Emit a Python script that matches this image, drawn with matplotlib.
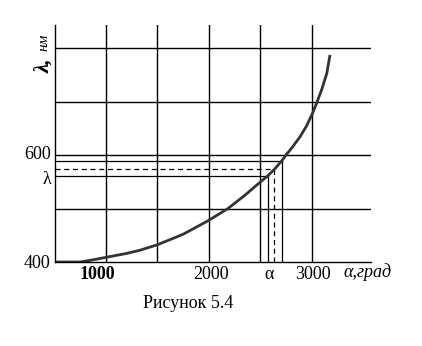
import matplotlib
matplotlib.use("Agg")
import matplotlib.pyplot as plt

plt.rcParams['font.family'] = ['Liberation Serif', 'DejaVu Serif']

# кривая λ(α)
alpha = [505, 750, 900, 1007, 1200, 1330, 1495, 1650, 1750, 1990, 2100, 2185,
         2350, 2495, 2570, 2634, 2706, 2748, 2803, 2884, 2949, 3003, 3039,
         3094, 3143, 3175]
lam = [400, 400, 405, 409, 416, 422, 432, 444, 452, 477, 490, 500,
       525, 549, 561, 573, 589, 600, 613, 634, 655, 677, 694,
       722, 752, 787]

grid_x = [1000, 1500, 2000, 2500, 3000]
grid_y = [500, 600, 700, 800]

# вспомогательные линии отсчёта
ref_alpha = [2570, 2634, 2706]
ref_lam = [561, 573, 589]
ref_dashed = [False, True, False]

xtick_pos = [918, 2024, 2583, 3005]
xtick_lab = ['1000', '2000', 'α', '3000']
ytick_pos = [400, 558, 605]
ytick_lab = ['400', 'λ', '600']

fig = plt.figure(figsize=(4.22, 3.46), dpi=100)
ax = fig.add_axes([55/422, 1 - 262/346, 316/422, 237/346])
ax.set_xlim(505, 3573)
ax.set_ylim(400, 843)

for gx in grid_x:
    ax.axvline(gx, color='black', lw=1.0)
for gy in grid_y:
    ax.axhline(gy, color='black', lw=1.0)

for a, l, d in zip(ref_alpha, ref_lam, ref_dashed):
    st = dict(color='black', lw=0.9)
    if d:
        st['dashes'] = (4, 3)
    ax.plot([505, a], [l, l], **st)
    ax.plot([a, a], [400, l], **st)

ax.plot(alpha, lam, color='#333333', lw=2.0, solid_capstyle='butt',
        solid_joinstyle='round')

for side in ['top', 'right']:
    ax.spines[side].set_visible(False)
ax.spines['left'].set_linewidth(1.0)
ax.spines['bottom'].set_linewidth(1.0)

ax.set_xticks(xtick_pos)
ax.set_xticklabels(xtick_lab, fontsize=13)
ax.set_yticks(ytick_pos)
ax.set_yticklabels(ytick_lab, fontsize=13)
ax.tick_params(length=0, pad=3)
ax.get_xticklabels()[0].set_fontweight('bold')

ax.text(3301, 398, 'α,град', fontsize=13, style='italic',
        ha='left', va='top')

fig.text(44/422, 1 - 66/346, 'λ,', rotation=90, fontsize=15,
         fontweight='bold', style='italic', ha='center', va='center')
fig.text(44/422, 1 - 42/346, 'нм', rotation=90, fontsize=11,
         style='italic', ha='center', va='center')
fig.text(188/422, 1 - 303/346, 'Рисунок 5.4', fontsize=13,
         ha='center', va='center')

fig.savefig('out.png', dpi=100)
